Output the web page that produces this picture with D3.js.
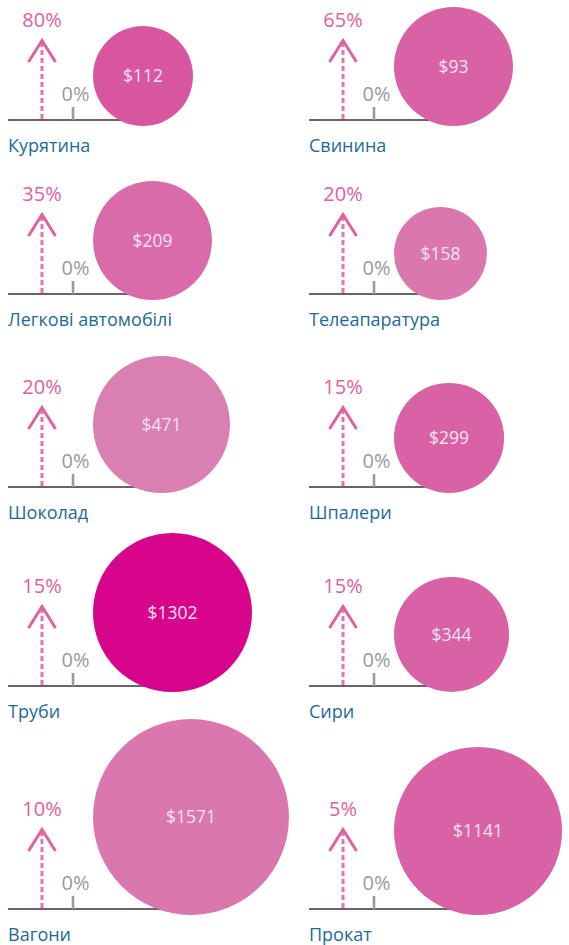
<!DOCTYPE html>
<html>
<head>
<meta charset="utf-8">
<script src="https://cdn.jsdelivr.net/npm/d3@7"></script>
<style>
  html, body { margin: 0; padding: 0; background: #fff; }
  svg { display: block; font-family: "Open Sans", "Noto Sans", sans-serif; }
</style>
</head>
<body>
<div id="chart"></div>
<script>
/* Ціна і зростання по товарних групах — малі панелі */

const categories = ["Курятина", "Свинина", "Легкові автомобілі", "Телеапаратура", "Шоколад",
  "Шпалери", "Труби", "Сири", "Вагони", "Прокат"];
const growth = [80, 65, 35, 20, 20, 15, 15, 15, 10, 5];          // % над стрілкою
const price = [112, 93, 209, 158, 471, 299, 1302, 344, 1571, 1141]; // $ у колі
const volume = [250, 354, 354, 216, 469, 303, 632, 331, 960, 706];  // площа кола (оцінка)
const shade = [0.39, 0.3, 0.225, 0.125, 0.06, 0.3, 1, 0.3, 0.125, 0.3]; // насиченість кола

const W = 569, H = 945;
const rowBase = [120, 294, 487, 686, 909];
const col = d3.scalePoint().domain([0, 1]).range([8, 309]);
const r = d3.scaleSqrt().domain([0, 1000]).range([0, 100]);
const color = d3.scaleLinear().domain([0, 0.3, 1]).range(["#DA86B5", "#D862A3", "#D6058B"]);

const svg = d3.select("#chart").append("svg").attr("width", W).attr("height", H);

const panels = svg.selectAll("g.panel").data(categories).join("g")
  .attr("class", "panel")
  .attr("transform", (d, i) => `translate(${col(i % 2)},${rowBase[Math.floor(i / 2)]})`);

panels.each(function (name, i) {
  const g = d3.select(this);
  const rad = r(volume[i]);
  const cx = 85 + rad, cy = 6 - rad;
  const ax = 34, tx = 65;

  /* базова лінія */
  g.append("line").attr("x1", 0).attr("x2", cx).attr("y1", 0).attr("y2", 0)
    .attr("stroke", "#3f2c38").attr("stroke-width", 1.4);

  /* 0% */
  g.append("line").attr("x1", tx).attr("x2", tx).attr("y1", 0).attr("y2", -13)
    .attr("stroke", "#9a9a9a").attr("stroke-width", 2.6);
  g.append("text").attr("x", tx + 2.5).attr("y", -19.5).attr("text-anchor", "middle")
    .attr("font-size", 20).attr("fill", "#9a9a9a").text("0%");

  /* стрілка зростання */
  g.append("line").attr("x1", ax).attr("x2", ax).attr("y1", -1).attr("y2", -78)
    .attr("stroke", "#e274b0").attr("stroke-width", 3).attr("stroke-dasharray", "5 3");
  g.append("path").attr("d", `M${ax - 13.5},-58L${ax},-79.5L${ax + 13.5},-58`)
    .attr("fill", "none").attr("stroke", "#e0619f").attr("stroke-width", 3);
  g.append("text").attr("x", ax).attr("y", -93).attr("text-anchor", "middle")
    .attr("font-size", 20).attr("fill", "#e0609f").text(growth[i] + "%");

  /* коло з ціною */
  g.append("circle").attr("cx", cx).attr("cy", cy).attr("r", rad).attr("fill", color(shade[i]));
  g.append("text").attr("x", cx).attr("y", cy).attr("dy", "0.35em").attr("text-anchor", "middle")
    .attr("font-size", 17.5).attr("fill", "#f0e2f0").text("$" + price[i]);

  /* назва */
  g.append("text").attr("x", 0).attr("y", 31.5)
    .attr("font-size", 18).attr("fill", "#1d6b98").text(name);
});
</script>
</body>
</html>
